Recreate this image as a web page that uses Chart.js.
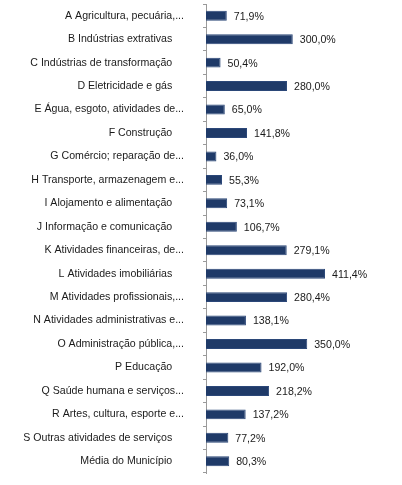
<!DOCTYPE html>
<html>
<head>
<meta charset="utf-8">
<script src="https://cdn.jsdelivr.net/npm/chart.js@4/dist/chart.umd.min.js"></script>
<style>
  html, body { margin: 0; padding: 0; background: #fff; }
  #wrap { width: 402px; height: 485px; }
</style>
</head>
<body>
<div id="wrap"><canvas id="c"></canvas></div>
<script>
// trailing spaces keep the full labels further off the axis, as in the source
const categories = [
  'A Agricultura, pecuária,...',
  'B Indústrias extrativas    ',
  'C Indústrias de transformação    ',
  'D Eletricidade e gás    ',
  'E Água, esgoto, atividades de...',
  'F Construção    ',
  'G Comércio; reparação de...',
  'H Transporte, armazenagem e...',
  'I Alojamento e alimentação    ',
  'J Informação e comunicação    ',
  'K Atividades financeiras, de...',
  'L Atividades imobiliárias    ',
  'M Atividades profissionais,...',
  'N Atividades administrativas e...',
  'O Administração pública,...',
  'P Educação    ',
  'Q Saúde humana e serviços...',
  'R Artes, cultura, esporte e...',
  'S Outras atividades de serviços    ',
  'Média do Município    '
];
const values = [71.9, 300.0, 50.4, 280.0, 65.0, 141.8, 36.0, 55.3, 73.1, 106.7,
                279.1, 411.4, 280.4, 138.1, 350.0, 192.0, 218.2, 137.2, 77.2, 80.3];

const fmt = v => v.toLocaleString('pt-BR', { minimumFractionDigits: 1, maximumFractionDigits: 1 }) + '%';
const FONT = '"Liberation Sans", Arial, sans-serif';

// value labels just right of each bar
const valueLabels = {
  id: 'valueLabels',
  afterDatasetsDraw(chart) {
    const { ctx } = chart;
    const meta = chart.getDatasetMeta(0);
    ctx.save();
    ctx.font = '10.6px ' + FONT;
    ctx.fillStyle = '#1a1a1a';
    ctx.textAlign = 'left';
    ctx.textBaseline = 'middle';
    meta.data.forEach((bar, i) => {
      ctx.fillText(fmt(values[i]), bar.x + 7, bar.y + 1);
    });
    ctx.restore();
  }
};

// eslint-disable-next-line no-undef
new Chart(document.getElementById('c').getContext('2d'), {
  type: 'bar',
  data: {
    labels: categories,
    datasets: [{
      data: values,
      backgroundColor: '#1f3a68',
      borderColor: '#2b4778',
      borderWidth: 1,
      barPercentage: 0.85,
      categoryPercentage: 0.5
    }]
  },
  options: {
    indexAxis: 'y', responsive: true, maintainAspectRatio: false,
    animation: false,
    layout: { padding: { top: 4, bottom: 12, left: 0, right: 8 } },
    scales: {
      x: { display: false, min: 0, max: 650 },
      y: {
        afterFit(s) { s.width = 206; s.paddingTop = 0; s.paddingBottom = 0; },
        border: { display: true, color: '#9a9a9a', width: 1 },
        grid: { offset: true, drawOnChartArea: false, drawTicks: true, tickLength: 3, color: '#9a9a9a' },
        ticks: {
          padding: 19, color: '#1a1a1a', autoSkip: false,
          font: { family: FONT, size: 10.6 }
        }
      }
    },
    plugins: { legend: { display: false }, tooltip: { enabled: false } }
  },
  plugins: [valueLabels]
});
</script>
</body>
</html>
